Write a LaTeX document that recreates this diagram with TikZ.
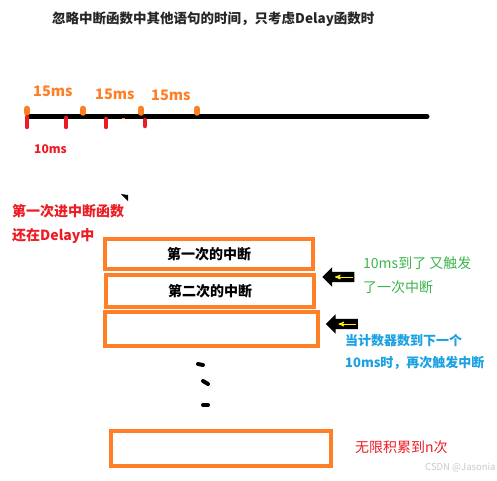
\documentclass[tikz,border=0pt]{standalone}
\usepackage{fontspec}
\setmainfont{Noto Sans CJK SC}
\usetikzlibrary{arrows,shapes.arrows,positioning}

\definecolor{paintorange}{HTML}{FF7F27}
\definecolor{paintred}{HTML}{ED1C24}
\definecolor{paintgreen}{HTML}{3CB44B}
\definecolor{paintblue}{HTML}{1BA1E2}
\definecolor{marklight}{HTML}{C8C8C8}

\begin{document}
\begin{tikzpicture}[x=1pt,y=-1pt,>=stealth',inner sep=0pt,
	                    node distance=2pt]
	  \tikzstyle{note}=[anchor=west,font=\fontsize{14}{16}\selectfont]
	  \tikzstyle{boldnote}=[note,font=\bfseries\fontsize{14}{16}\selectfont]
	  \tikzstyle{intbox}=[draw=paintorange,line width=4pt,minimum width=208pt,
	                      font=\bfseries\fontsize{14}{16}\selectfont]
	  \tikzstyle{backarrow}=[single arrow,fill=black,shape border rotate=180,
	                         inner xsep=0pt,inner ysep=5pt,minimum height=32pt,
	                         single arrow head extend=4.5pt,single arrow head indent=0pt]
	  \tikzstyle{yellowline}=[->,draw=yellow,line width=1pt]

	  \useasboundingbox (0,0) rectangle (497,480);

	  \node[boldnote,text=black!85,font=\bfseries\fontsize{13.5}{16}\selectfont] (title) at (52,19)
	       {忽略中断函数中其他语句的时间，只考虑Delay函数时};

	  % time line
	  \draw[line width=5pt,line cap=round] (28,116.5) -- (427,116.5);
	  \foreach \x in {27,83,141,197}
	    \draw[paintorange,line width=5.5pt,line cap=round] (\x,108.5) -- (\x,113);
	  \foreach \x/\a/\b in {27/117/127,66/118/127,106/119/127,145/120/126}
	    \draw[paintred,line width=4.5pt,line cap=round] (\x,\a) -- (\x,\b);
	  \draw[paintorange,line width=1pt] (122,118.5) -- (125,118.5);
	  \draw[line width=1pt] (82,118.5) -- (85,118.5);

	  \node[boldnote,text=paintorange,font=\bfseries\fontsize{14.5}{16}\selectfont] (fifteenA) at (33,91) {15ms};
	  \node[boldnote,text=paintorange,font=\bfseries\fontsize{14.5}{16}\selectfont] (fifteenB) at (95,94) {15ms};
	  \node[boldnote,text=paintorange,font=\bfseries\fontsize{14.5}{16}\selectfont] (fifteenC) at (151,95) {15ms};
	  \node[boldnote,text=paintred,font=\bfseries\fontsize{12}{14}\selectfont] (ten) at (34,149) {10ms};

	  \fill (121,194) -- (128,195) -- (128,201) -- cycle;

	  \node[boldnote,text=paintred] (enter) at (12,211) {第一次进中断函数};
	  \node[boldnote,text=paintred] (still) at (12,236) {还在Delay中};

	  % interrupt stack
	  \node[intbox,minimum height=30pt] (first) at (209,254) {第一次的中断};
	  \node[intbox,minimum height=32pt,below=of first,xshift=1pt] (second) {第二次的中断};
	  \node[intbox,minimum height=34pt,minimum width=213pt,below=1pt of second,xshift=1.5pt] (third) {};
	  \node[intbox,minimum height=35pt,minimum width=220pt] (last) at (221,448.5) {};

	  \node[backarrow] (arrA) at (341,277) {};
	  \draw[yellowline] ([xshift=12pt]arrA.center) -- ([xshift=-6pt]arrA.center);
	  \node[backarrow] (arrB) at (344.5,324) {};
	  \draw[yellowline] ([xshift=11pt]arrB.center) -- ([xshift=-6pt]arrB.center);

	  \node[note,text=paintgreen] (againA) at (363,263) {10ms到了 又触发};
	  \node[note,text=paintgreen] (againB) at (363,287) {了一次中断};
	  \node[boldnote,text=paintblue,font=\bfseries\fontsize{13}{16}\selectfont] (countA) at (345,341) {当计数器数到下一个};
	  \node[boldnote,text=paintblue,font=\bfseries\fontsize{13}{16}\selectfont] (countB) at (345,363) {10ms时，再次触发中断};

	  % dots
	  \draw[line width=4pt,line cap=round] (198,364) -- (203,365);
	  \draw[line width=4pt,line cap=round] (203,381) -- (208,384);
	  \draw[line width=4pt,line cap=round] (203,405) -- (208,405);

	  \node[note,text=paintred] (ntimes) at (355,447) {无限积累到n次};
	  \node[note,text=marklight,font=\fontsize{9.5}{11}\selectfont] (mark) at (425,468) {CSDN @Jasonia};
	\end{tikzpicture}
\end{document}
